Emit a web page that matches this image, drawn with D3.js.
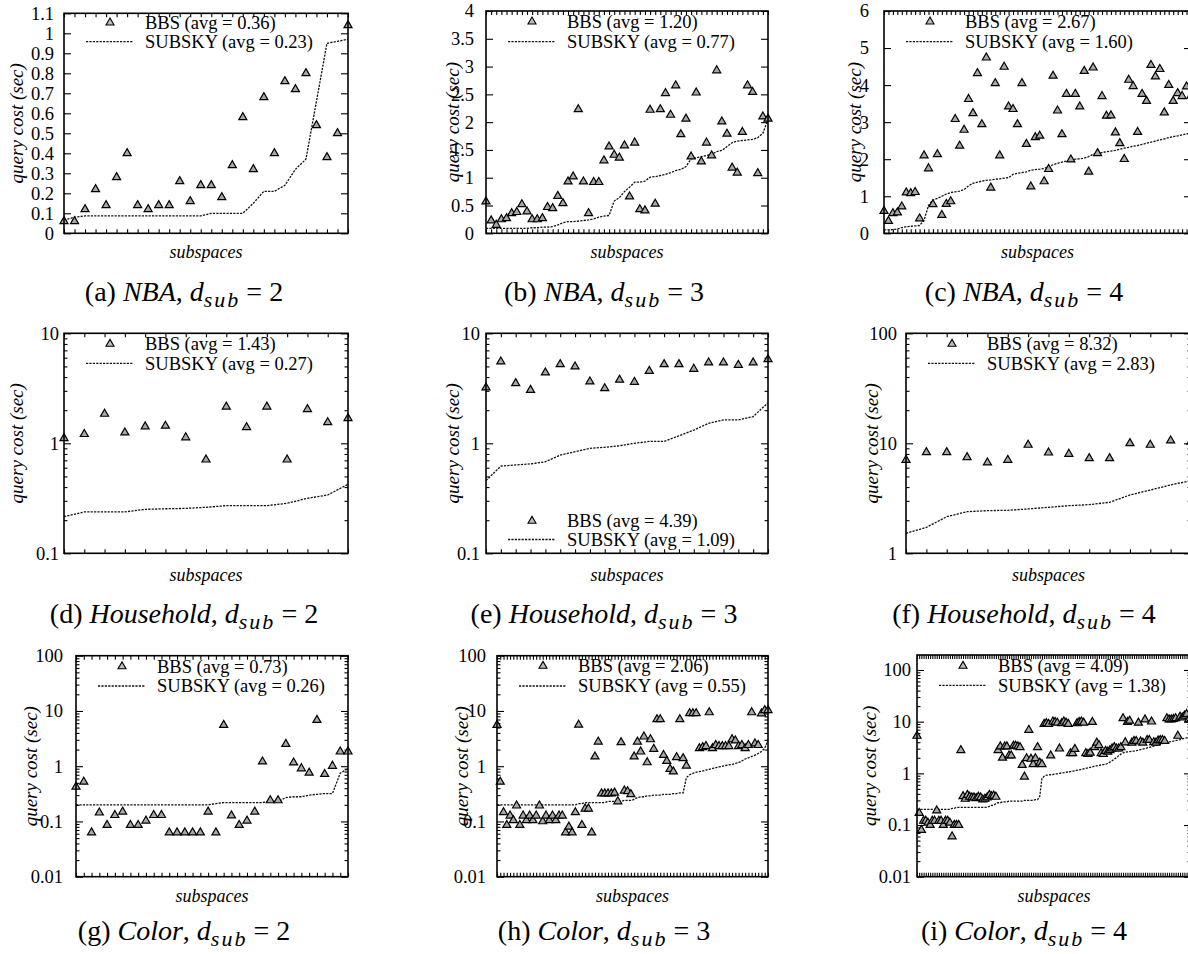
<!DOCTYPE html>
<html>
<head>
<meta charset="utf-8">
<script src="https://cdn.jsdelivr.net/npm/d3@7"></script>
<style>
  html, body { margin: 0; padding: 0; background: #fff; }
  svg { display: block; }
  text { font-family: "Liberation Serif", "Times New Roman", serif; fill: #000; }
</style>
</head>
<body>
<svg id="chart" width="1188" height="954"></svg>
<script>
// ---------- query cost per subspace (seconds) ----------
const nbaD2Bbs = [0.06,0.06,0.12,0.22,0.14,0.28,0.40,0.14,0.12,0.14,0.14,0.26,0.16,0.24,0.24,0.18,0.34,0.58,0.32,0.68,0.40,0.76,0.72,0.80,0.54,0.38,0.50,1.04];
const nbaD2Subsky = [0.067,0.08,0.087,0.087,0.087,0.087,0.087,0.087,0.087,0.087,0.087,0.087,0.087,0.087,0.10,0.10,0.10,0.10,0.15,0.21,0.21,0.24,0.32,0.37,0.66,0.95,0.96,0.97];

const nbaD3Bbs = [0.57,0.23,0.15,0.25,0.27,0.36,0.38,0.52,0.39,0.25,0.25,0.27,0.47,0.45,0.67,0.54,
  0.93,1.02,2.23,0.93,0.36,0.92,0.92,1.31,1.56,1.41,1.36,1.58,0.66,1.63,0.43,0.41,
  2.22,0.53,2.23,2.52,2.13,2.66,1.78,2.06,1.38,2.53,1.29,1.63,1.40,2.93,
  2.01,1.79,1.18,1.09,1.82,2.66,2.54,1.08,2.10,2.06];
const nbaD3Subsky = [0.09,0.09,0.09,0.09,0.09,0.09,0.09,0.09,0.09,0.10,0.10,0.11,0.11,0.12,
  0.15,0.19,0.21,0.21,0.22,0.23,0.24,0.26,0.29,0.31,0.32,
  0.58,0.64,0.75,0.83,0.92,0.92,0.94,
  1.01,1.02,1.04,1.06,1.09,1.13,1.15,1.20,
  1.34,1.36,1.38,1.40,1.42,1.47,1.49,1.56,
  1.63,1.66,1.67,1.68,1.69,1.72,1.80,2.05];

const nbaD4Bbs = [0.60,0.33,0.54,0.56,0.72,1.10,1.08,1.11,0.40,2.10,
  1.75,0.78,2.13,0.49,0.79,0.86,3.08,2.36,2.79,3.62,
  3.24,4.32,2.94,4.74,1.23,4.05,2.10,4.49,3.42,3.35,
  2.94,4.05,2.41,1.26,2.59,2.63,1.40,1.73,4.25,3.31,
  2.67,3.76,1.99,3.76,3.42,4.38,1.66,4.47,2.16,3.70,
  3.17,3.18,2.72,2.43,2.00,4.14,3.97,2.73,3.76,3.57,
  4.54,4.23,4.43,3.26,4.00,3.57,3.78,3.70,3.96,3.71];
const nbaD4Subsky = [0.09,0.09,0.10,0.12,0.15,0.18,0.19,0.20,0.21,0.35,
  0.75,0.90,0.94,1.00,1.06,1.10,1.12,1.14,1.18,1.28,
  1.35,1.38,1.41,1.43,1.44,1.46,1.47,1.49,1.50,1.59,
  1.62,1.64,1.66,1.70,1.72,1.73,1.75,1.80,1.85,1.89,
  1.92,1.95,1.98,2.00,2.01,2.03,2.07,2.13,2.16,2.18,
  2.20,2.22,2.24,2.27,2.30,2.32,2.35,2.37,2.40,2.43,
  2.46,2.49,2.52,2.55,2.58,2.61,2.63,2.66,2.68,2.71];

const houseD2Bbs = [1.11,1.21,1.85,1.25,1.42,1.44,1.13,0.71,2.15,1.40,2.15,0.71,2.04,1.55,1.69];
const houseD2Subsky = [0.215,0.238,0.238,0.238,0.251,0.254,0.256,0.262,0.271,0.271,0.271,0.285,0.316,0.339,0.424];

const houseD3Bbs = [3.21,5.53,3.51,3.05,4.39,5.23,4.98,3.64,3.16,3.77,3.61,4.54,5.23,5.23,4.74,5.41,5.41,5.15,5.41,5.80];
const houseD3Subsky = [0.458,0.62,0.636,0.65,0.68,0.78,0.84,0.90,0.92,0.95,1.00,1.04,1.04,1.17,1.32,1.52,1.63,1.63,1.75,2.34];

const houseD4Bbs = [7.05,8.28,8.28,7.46,6.67,7.05,9.66,8.22,8.00,7.31,7.31,10.0,9.66,10.57,10.3];
const houseD4Subsky = [1.52,1.72,2.15,2.39,2.44,2.46,2.53,2.62,2.71,2.77,2.91,3.39,3.76,4.18,4.58];

const colorD2Bbs = [0.425,0.52,0.063,0.144,0.086,0.13,0.15,0.086,0.086,0.103,0.13,0.13,
  0.063,0.063,0.063,0.063,0.063,0.15,0.063,5.56,0.128,0.086,0.103,0.15,
  1.21,0.24,0.24,2.52,1.16,0.91,0.76,6.85,0.72,1.01,1.83,1.83];
const colorD2Subsky = [0.20,0.20,0.20,0.20,0.20,0.20,0.20,0.20,0.20,0.20,0.20,0.20,0.20,0.20,0.20,0.20,0.20,0.20,
  0.21,0.22,0.22,0.22,0.22,0.22,0.22,0.23,0.23,
  0.27,0.28,0.28,0.30,0.31,0.32,0.32,0.75,0.90];

const colorD3Bbs = [5.56,0.52,0.146,0.086,0.127,0.105,0.193,0.086,0.127,0.105,0.127,0.105,0.127,0.193,0.10,
  0.127,0.105,0.127,0.105,0.127,0.127,0.063,0.08,0.063,0.146,5.6,0.086,0.17,0.17,0.063,
  1.49,2.77,0.32,0.32,0.32,0.32,0.33,0.23,2.7,0.36,0.35,0.31,1.49,2.77,1.83,3.42,1.17,3.05,2.05,
  7.05,7.05,1.59,1.24,0.89,0.80,1.45,7.05,1.39,1.02,
  9.04,9.04,9.04,2.10,2.20,2.30,9.4,2.10,2.40,2.30,2.30,2.30,2.30,3.05,2.90,2.30,2.40,2.10,2.40,
  9.4,2.56,2.40,9.0,10.3,10.3];
const colorD3Subsky = [0.20,0.20,0.20,0.20,0.20,0.20,0.20,0.20,0.20,0.20,0.20,0.20,0.20,0.20,0.20,0.20,0.20,0.20,0.20,0.20,0.20,0.20,0.20,0.20,0.20,
  0.21,0.21,0.22,0.22,0.22,0.22,0.22,0.22,0.22,0.23,0.23,0.23,0.23,0.23,
  0.24,0.24,0.24,0.25,0.27,0.28,0.28,0.29,0.29,0.30,0.30,0.30,0.31,0.31,0.31,0.32,0.32,0.33,0.33,
  0.62,0.70,0.74,0.78,0.80,0.82,0.85,0.88,0.91,0.94,0.97,1.00,1.03,1.06,1.08,1.12,1.16,1.25,1.35,
  1.42,1.50,1.58,1.70,1.85,2.10,3.00];

const colorD4Bbs = [5.3,0.17,0.08,0.12,0.12,0.11,0.10,0.12,0.12,0.19,0.12,0.12,0.10,0.12,0.12,0.11,0.06,0.10,0.10,0.10,
  2.8,
  0.36,0.32,0.38,0.35,0.34,0.34,0.33,0.35,0.34,0.31,0.32,0.34,0.38,0.36,0.37,0.35,
  2.8,
  3.3,2.0,3.3,3.3,2.2,2.2,3.4,3.4,3.3,3.2,1.45,0.86,1.95,6.9,1.9,1.5,1.95,3.2,1.6,1.5,
  9.0,9.3,9.0,2.2,10.0,9.8,9.5,3.0,9.3,10.0,9.5,9.0,
  2.45,2.45,2.95,9.3,9.8,10.0,9.5,2.45,2.35,2.5,9.8,
  3.2,3.9,3.5,2.45,2.35,2.7,2.6,2.8,3.0,3.2,3.0,3.0,3.2,11.6,3.96,9.8,
  10.4,3.9,4.2,4.2,9.5,4.1,3.9,11.0,4.4,4.4,10.0,4.0,3.9,4.3,4.4,4.4,4.2,
  11.6,11.0,11.0,11.2,11.6,5.3,12.4,12.0,13.0,14.0,11.0,11.0];
const colorD4Subsky = [0.20,0.20,0.20,0.20,0.20,0.20,0.20,0.20,0.20,0.20,0.20,0.20,0.20,0.20,0.20,0.20,
  0.21,0.21,0.22,0.22,0.22,0.22,0.22,0.22,0.22,0.22,0.22,0.22,0.22,0.22,0.22,0.22,0.22,
  0.23,0.24,0.24,0.26,0.27,0.27,
  0.28,0.28,0.28,0.29,0.29,0.29,0.29,0.29,0.29,0.29,0.30,0.30,0.30,0.30,0.30,0.31,0.31,
  0.36,0.80,0.88,
  0.92,0.93,0.94,0.95,0.97,0.98,1.00,
  1.02,1.03,1.05,1.07,1.08,1.10,1.12,
  1.15,1.17,1.19,1.22,1.25,1.28,1.31,1.34,
  1.38,1.40,1.42,1.45,1.48,1.50,1.55,
  1.65,1.75,1.88,2.00,
  2.20,2.35,2.50,
  2.55,2.60,2.63,2.67,2.70,2.75,
  2.80,2.88,2.95,3.02,3.10,3.18,3.26,3.35,
  3.45,3.55,3.65,3.75,3.85,3.95,4.05,4.12,
  4.20,4.30,4.40,4.50,4.62,4.75,4.85,4.98,5.10];

// ---------- averages shown in the legends ----------
const bbsAvg    = [0.36, 1.20, 2.67, 1.43, 4.39, 8.32, 0.73, 2.06, 4.09];
const subskyAvg = [0.23, 0.77, 1.60, 0.27, 1.09, 2.83, 0.26, 0.55, 1.38];

// ---------- value-axis tick labels ----------
const ticksNbaD2 = [0, 0.1, 0.2, 0.3, 0.4, 0.5, 0.6, 0.7, 0.8, 0.9, 1, 1.1];
const ticksNbaD3 = [0, 0.5, 1, 1.5, 2, 2.5, 3, 3.5, 4];
const ticksNbaD4 = [0, 1, 2, 3, 4, 5, 6];
const ticksHouseLow = [0.1, 1, 10];
const ticksHouseHigh = [1, 10, 100];
const ticksColor = [0.01, 0.1, 1, 10, 100];

// ---------- captions ----------
const captionTags = ["(a)", "(b)", "(c)", "(d)", "(e)", "(f)", "(g)", "(h)", "(i)"];
const captionSets = ["NBA", "NBA", "NBA", "Household", "Household", "Household", "Color", "Color", "Color"];
const captionDims = [2, 3, 4, 2, 3, 4, 2, 3, 4];

// ---------- panel wiring and geometry ----------
const series = [
  [nbaD2Bbs, nbaD2Subsky], [nbaD3Bbs, nbaD3Subsky], [nbaD4Bbs, nbaD4Subsky],
  [houseD2Bbs, houseD2Subsky], [houseD3Bbs, houseD3Subsky], [houseD4Bbs, houseD4Subsky],
  [colorD2Bbs, colorD2Subsky], [colorD3Bbs, colorD3Subsky], [colorD4Bbs, colorD4Subsky]
];
const axes = [
  { log: false, domain: [0, 1.1], ticks: ticksNbaD2 },
  { log: false, domain: [0, 4], ticks: ticksNbaD3 },
  { log: false, domain: [0, 6], ticks: ticksNbaD4 },
  { log: true, domain: [0.1, 10], ticks: ticksHouseLow },
  { log: true, domain: [0.1, 10], ticks: ticksHouseLow },
  { log: true, domain: [1, 100], ticks: ticksHouseHigh },
  { log: true, domain: [0.01, 100], ticks: ticksColor },
  { log: true, domain: [0.01, 100], ticks: ticksColor },
  { log: true, domain: [0.01, 195], ticks: ticksColor }
];
const layout = [
  { left: 64,  right: 348,  top: 13.3,  bottom: 233.3, gap: 10, titleX: 17,  leg1: 22.7,  leg2: 41.7 },
  { left: 486, right: 768,  top: 11,    bottom: 233.3, gap: 12, titleX: 453, leg1: 21.7,  leg2: 41.7 },
  { left: 884, right: 1191, top: 11,    bottom: 233.3, gap: 15, titleX: 855, leg1: 21.7,  leg2: 41.7 },
  { left: 64,  right: 348,  top: 333.3, bottom: 553.3, gap: 5,  titleX: 17,  leg1: 344,   leg2: 363.3 },
  { left: 486, right: 768,  top: 333.3, bottom: 553.3, gap: 6,  titleX: 453, leg1: 521,   leg2: 539.5 },
  { left: 906, right: 1191, top: 333.3, bottom: 553.3, gap: 9,  titleX: 872, leg1: 344,   leg2: 363.3 },
  { left: 76,  right: 348,  top: 655.7, bottom: 876.7, gap: 13, titleX: 31,  leg1: 666.5, leg2: 686 },
  { left: 497, right: 768,  top: 655.7, bottom: 876.7, gap: 11, titleX: 462, leg1: 666,   leg2: 686 },
  { left: 917, right: 1191, top: 655,   bottom: 876.7, gap: 6,  titleX: 870, leg1: 666,   leg2: 685.3 }
];
const rowXLabelY = [252, 575, 896];
const rowCaptionY = [301, 623, 940];
const colCaptionX = [184, 604, 1024];

const FONT = '"Liberation Serif", "Times New Roman", serif';
const svg = d3.select("#chart");
svg.append("rect").attr("width", 1188).attr("height", 954).attr("fill", "#fff");

const triangle = d3.symbol().type(d3.symbolTriangle).size(28);

function logMinorTicks(domain) {
  const out = [];
  const e0 = Math.floor(Math.log10(domain[0]));
  const e1 = Math.ceil(Math.log10(domain[1]));
  for (let e = e0; e <= e1; e++) {
    for (let k = 2; k <= 9; k++) {
      const v = k * Math.pow(10, e);
      if (v > domain[0] && v < domain[1]) out.push(v);
    }
  }
  return out;
}

function styleAxis(sel) {
  sel.select(".domain").remove();
  sel.selectAll(".tick line").attr("stroke", "#000").attr("stroke-width", 1.1);
  sel.selectAll(".tick text")
    .attr("font-family", FONT)
    .attr("font-size", 18.5)
    .attr("fill", "#000");
}

series.forEach(([bbs, subsky], i) => {
  const L = layout[i];
  const A = axes[i];
  const row = Math.floor(i / 3), col = i % 3;
  const g = svg.append("g");
  const n = bbs.length;

  const x = d3.scaleLinear().domain([0, n - 1]).range([L.left, L.right]);
  const y = (A.log ? d3.scaleLog() : d3.scaleLinear()).domain(A.domain).range([L.bottom, L.top]);

  // one tick per subspace, bottom and top edges
  const idx = d3.range(n);
  g.append("g").attr("transform", `translate(0,${L.bottom})`)
    .call(d3.axisBottom(x).tickValues(idx).tickSize(-4).tickFormat(""))
    .call(styleAxis);
  g.append("g").attr("transform", `translate(0,${L.top})`)
    .call(d3.axisTop(x).tickValues(idx).tickSize(-4).tickFormat(""))
    .call(styleAxis);

  // value axis: labelled ticks on the left, mirrored on the right
  g.append("g").attr("transform", `translate(${L.left},0)`)
    .call(d3.axisLeft(y).tickValues(A.ticks).tickSize(-7).tickPadding(L.gap).tickFormat(d => String(d)))
    .call(styleAxis);
  g.append("g").attr("transform", `translate(${L.right},0)`)
    .call(d3.axisRight(y).tickValues(A.ticks).tickSize(-7).tickFormat(""))
    .call(styleAxis);
  if (A.log) {
    const minor = logMinorTicks(A.domain);
    g.append("g").attr("transform", `translate(${L.left},0)`)
      .call(d3.axisLeft(y).tickValues(minor).tickSize(-3.5).tickFormat(""))
      .call(styleAxis);
    g.append("g").attr("transform", `translate(${L.right},0)`)
      .call(d3.axisRight(y).tickValues(minor).tickSize(-3.5).tickFormat(""))
      .call(styleAxis);
  }

  // SUBSKY cost curve
  g.append("path")
    .datum(subsky)
    .attr("fill", "none")
    .attr("stroke", "#111")
    .attr("stroke-width", 1.3)
    .attr("stroke-dasharray", "2.2,1.2")
    .attr("d", d3.line().x((d, k) => x(k)).y(d => y(d)));

  // BBS cost per subspace
  g.append("g").selectAll("path")
    .data(bbs)
    .join("path")
    .attr("d", triangle)
    .attr("transform", (d, k) => `translate(${x(k)},${y(d)})`)
    .attr("fill", "#a8a8a8")
    .attr("stroke", "#000")
    .attr("stroke-width", 1.2);

  // frame
  g.append("rect")
    .attr("x", L.left).attr("y", L.top)
    .attr("width", L.right - L.left).attr("height", L.bottom - L.top)
    .attr("fill", "none").attr("stroke", "#000").attr("stroke-width", 1.6);

  // legend
  const lg = g.append("g");
  lg.append("path").attr("d", triangle)
    .attr("transform", `translate(${L.left + 46},${L.leg1})`)
    .attr("fill", "#bdbdbd").attr("stroke", "#000").attr("stroke-width", 1.1);
  lg.append("text").attr("x", L.left + 81).attr("y", L.leg1).attr("dy", "0.34em")
    .attr("font-size", 18.5).text(`BBS (avg = ${bbsAvg[i].toFixed(2)})`);
  lg.append("line")
    .attr("x1", L.left + 22).attr("x2", L.left + 69)
    .attr("y1", L.leg2).attr("y2", L.leg2)
    .attr("stroke", "#111").attr("stroke-width", 1.3).attr("stroke-dasharray", "2.2,1.2");
  lg.append("text").attr("x", L.left + 81).attr("y", L.leg2).attr("dy", "0.34em")
    .attr("font-size", 18.5).text(`SUBSKY (avg = ${subskyAvg[i].toFixed(2)})`);

  // axis titles
  g.append("text")
    .attr("transform", `translate(${L.titleX},${(L.top + L.bottom) / 2}) rotate(-90)`)
    .attr("text-anchor", "middle").attr("dy", "0.32em")
    .attr("font-size", 19).attr("font-style", "italic")
    .text("query cost (sec)");
  g.append("text")
    .attr("x", (L.left + L.right) / 2)
    .attr("y", rowXLabelY[row]).attr("dy", "0.32em")
    .attr("text-anchor", "middle")
    .attr("font-size", 18).attr("font-style", "italic")
    .text("subspaces");

  // caption
  const cap = svg.append("text")
    .attr("x", colCaptionX[col]).attr("y", rowCaptionY[row])
    .attr("text-anchor", "middle").attr("font-size", 28);
  cap.append("tspan").text(captionTags[i] + " ");
  cap.append("tspan").attr("font-style", "italic").text(captionSets[i]);
  cap.append("tspan").text(", ");
  cap.append("tspan").attr("font-style", "italic").text("d");
  cap.append("tspan").attr("font-style", "italic").attr("font-size", 22)
    .attr("letter-spacing", 2).attr("dy", 6).text("sub");
  cap.append("tspan").attr("dy", -6).attr("dx", 6).text("=");
  cap.append("tspan").attr("dx", 7).text(String(captionDims[i]));
});
</script>
</body>
</html>
